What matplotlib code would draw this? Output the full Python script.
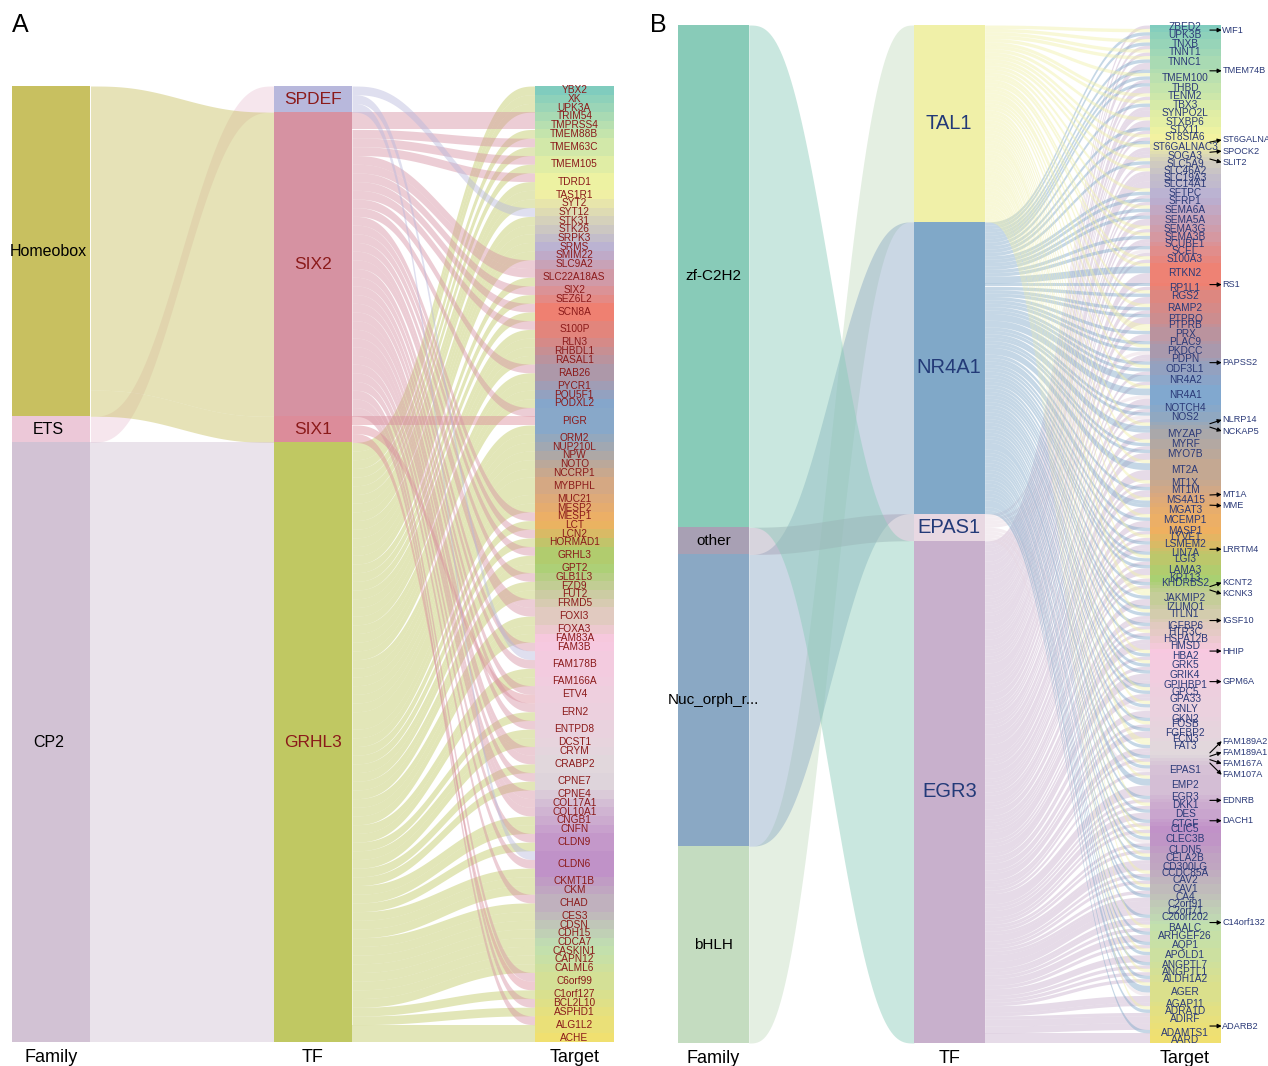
import matplotlib.pyplot as plt
import numpy as np
from matplotlib.colors import LinearSegmentedColormap

plt.rcParams["font.family"] = ["Liberation Sans", "DejaVu Sans"]

# ---------------- panel A ----------------
a_families = ["Homeobox", "ETS", "CP2"]
a_tfs = ["SPDEF", "SIX2", "SIX1", "GRHL3"]
a_tf_family = ["ETS", "Homeobox", "Homeobox", "CP2"]
a_codes = {"P": "SPDEF", "S": "SIX2", "1": "SIX1", "G": "GRHL3"}

a_targets = [
    "YBX2", "XK", "UPK3A", "TRIM54", "TMPRSS4", "TMEM88B", "TMEM63C", "TMEM105",
    "TDRD1", "TAS1R1", "SYT2", "SYT12", "STK31", "STK26", "SRPK3", "SRMS",
    "SMIM22", "SLC9A2", "SLC22A18AS", "SIX2", "SEZ6L2", "SCN8A", "S100P", "RLN3",
    "RHBDL1", "RASAL1", "RAB26", "PYCR1", "POU5F1", "PODXL2", "PIGR", "ORM2",
    "NUP210L", "NPW", "NOTO", "NCCRP1", "MYBPHL", "MUC21", "MESP2", "MESP1",
    "LCT", "LCN2", "HORMAD1", "GRHL3", "GPT2", "GLB1L3", "FZD9", "FUT2",
    "FRMD5", "FOXI3", "FOXA3", "FAM83A", "FAM3B", "FAM178B", "FAM166A", "ETV4",
    "ERN2", "ENTPD8", "DCST1", "CRYM", "CRABP2", "CPNE7", "CPNE4", "COL17A1",
    "COL10A1", "CNGB1", "CNFN", "CLDN9", "CLDN6", "CKMT1B", "CKM", "CHAD",
    "CES3", "CDSN", "CDH15", "CDCA7", "CASKIN1", "CAPN12", "CALML6", "C6orf99",
    "C1orf127", "BCL2L10", "ASPHD1", "ALG1L2", "ACHE",
]
# one letter per unit of flow reaching each target (P=SPDEF, S=SIX2, 1=SIX1, G=GRHL3)
a_links = [
    "G", "G", "G", "S", "S", "G", "SG", "SG",
    "SG", "G", "G", "P", "G", "G", "G", "G",
    "G", "S", "SG", "S", "G", "SG", "SG", "G",
    "G", "G", "SG", "G", "G", "G", "S1G", "G",
    "G", "G", "G", "G", "GG", "G", "G", "S",
    "G", "S", "G", "SG", "G", "S", "G", "G",
    "S", "SG", "G", "G", "S", "PSG", "G", "S1",
    "SG", "SG", "G", "S", "SG", "SG", "S", "S",
    "S", "G", "G", "SG", "PSG", "G", "G", "SG",
    "G", "G", "G", "G", "G", "G", "G", "S1",
    "G", "S", "G", "SG", "G",
]

# ---------------- panel B ----------------
b_families = ["zf-C2H2", "other", "Nuc_orph_r...", "bHLH"]
b_tfs = ["TAL1", "NR4A1", "EPAS1", "EGR3"]
b_tf_family = ["bHLH", "Nuc_orph_r...", "other", "zf-C2H2"]
b_codes = {"T": "TAL1", "N": "NR4A1", "P": "EPAS1", "E": "EGR3"}

b_targets = [
    "ZBED2", "WIF1", "UPK3B", "TNXB", "TNNT1", "TNNC1", "TMEM74B", "TMEM100",
    "THBD", "TENM2", "TBX3", "SYNPO2L", "STXBP6", "STX11", "ST8SIA6", "ST6GALNAC5",
    "ST6GALNAC3", "SPOCK2", "SOGA3", "SLIT2", "SLC5A9", "SLC46A2", "SLC19A3", "SLC14A1",
    "SFTPC", "SFRP1", "SEMA6A", "SEMA5A", "SEMA3G", "SEMA3B", "SCUBE1", "SCEL",
    "S100A3", "RTKN2", "RS1", "RP1L1", "RGS2", "RAMP2", "PTPRO", "PTPRB",
    "PRX", "PLAC9", "PKDCC", "PDPN", "PAPSS2", "ODF3L1", "NR4A2", "NR4A1",
    "NOTCH4", "NOS2", "NLRP14", "NCKAP5", "MYZAP", "MYRF", "MYO7B", "MT2A",
    "MT1X", "MT1M", "MT1A", "MS4A15", "MME", "MGAT3", "MCEMP1", "MASP1",
    "LYVE1", "LSMEM2", "LRRTM4", "LIN7A", "LGI3", "LAMA3", "KRT13", "KHDRBS2",
    "KCNT2", "KCNK3", "JAKMIP2", "IZUMO1", "ITLN1", "IGSF10", "IGFBP6", "HTR3C",
    "HSPA12B", "HMSD", "HHIP", "HBA2", "GRK5", "GRIK4", "GPM6A", "GPIHBP1",
    "GPC5", "GPA33", "GNLY", "GKN2", "FOSB", "FGFBP2", "FCN3", "FAT3",
    "FAM189A2", "FAM189A1", "FAM167A", "FAM107A", "EPAS1", "EMP2", "EGR3", "EDNRB",
    "DKK1", "DES", "DACH1", "CTGF", "CLIC5", "CLEC3B", "CLDN5", "CELA2B",
    "CD300LG", "CCDC85A", "CAV2", "CAV1", "CA4", "C2orf91", "C2orf71", "C20orf202",
    "C14orf132", "BAALC", "ARHGEF26", "AQP1", "APOLD1", "ANGPTL7", "ANGPTL1", "ALDH1A2",
    "AGER", "AGAP11", "ADRA1D", "ADIRF", "ADARB2", "ADAMTS1", "AARD",
]
# T=TAL1, N=NR4A1, P=EPAS1, E=EGR3
b_links = [
    "E", "T", "NE", "TNE", "TE", "TNEE", "N", "TNE",
    "NEE", "TE", "TNE", "EE", "TEE", "NE", "TE", "N",
    "TE", "E", "E", "T", "NE", "TE", "EE", "EE",
    "TNE", "NE", "TNE", "NEE", "TE", "TNE", "E", "NPE",
    "TE", "TNNEEE", "N", "E", "TNEE", "TNE", "NEE", "T",
    "TNEE", "N", "TNPE", "E", "N", "TNE", "NNE", "TNNPEE",
    "NE", "NPE", "T", "N", "NEE", "TNE", "NEE", "TNNEEE",
    "TE", "NE", "E", "TN", "N", "EE", "TNEE", "NE",
    "TE", "NE", "E", "N", "TNE", "NEE", "TE", "N",
    "E", "T", "TNEE", "N", "TNE", "E", "NE", "TE",
    "NE", "EE", "T", "NE", "TNE", "NEE", "E", "N",
    "TNE", "E", "TNPEE", "N", "TE", "NEE", "T", "TNE",
    "E", "N", "E", "T", "NPE", "TNNEEE", "N", "E",
    "TE", "NEE", "N", "E", "TE", "TNPE", "NE", "TNE",
    "EE", "TE", "NE", "TNE", "NE", "EE", "EE", "NE",
    "E", "TE", "NEE", "NE", "TNEE", "NE", "TE", "NE",
    "TNNPEE", "E", "TNE", "EE", "EE", "NE", "EE",
]
# targets whose names sit beside the column with a pointer
b_outside = [
    "WIF1", "TMEM74B", "ST6GALNAC5", "SPOCK2", "SLIT2", "RS1", "PAPSS2", "NLRP14",
    "NCKAP5", "MT1A", "MME", "LRRTM4", "KCNT2", "KCNK3", "IGSF10", "HHIP", "GPM6A",
    "FAM189A2", "FAM189A1", "FAM167A", "FAM107A", "EDNRB", "DACH1", "C14orf132", "ADARB2",
]

target_cmap = LinearSegmentedColormap.from_list("targets", [
    (0.00, "#80ccbe"), (0.10, "#f4f4a0"), (0.18, "#b8b0d4"), (0.25, "#f08070"),
    (0.35, "#80a8d0"), (0.43, "#d8a880"), (0.47, "#f0b060"), (0.52, "#a8d070"),
    (0.61, "#f8c8e0"), (0.72, "#e0d8dc"), (0.81, "#c090c8"), (0.90, "#c0e0b0"),
    (1.00, "#f0e070"),
])

W = 0.3
ALPHA = 0.45


def smooth(t):
    return t * t * t * (t * (6 * t - 15) + 10)


def ribbon(ax, x0, x1, top0, bot0, top1, bot1, color):
    x = np.linspace(x0, x1, 80)
    s = smooth((x - x0) / (x1 - x0))
    ax.fill_between(x, top0 + (top1 - top0) * s, bot0 + (bot1 - bot0) * s,
                    color=color, alpha=ALPHA, lw=0, zorder=1)


def alluvial(ax, families, fam_colors, tfs, tf_family, tf_colors, targets, links, codes):
    flows = []
    for j, mix in enumerate(links):
        for i, tf in enumerate(tfs):
            n = sum(codes[c] == tf for c in mix)
            if n:
                flows.append((i, j, n))
    tf_size = np.array([sum(n for i, j, n in flows if i == k) for k in range(len(tfs))])
    tgt_size = np.array([len(m) for m in links])
    fam_size = np.array([sum(tf_size[k] for k in range(len(tfs)) if tf_family[k] == f)
                         for f in families])
    fam_top = np.concatenate([[0], np.cumsum(fam_size)[:-1]]).astype(float)
    tf_top = np.concatenate([[0], np.cumsum(tf_size)[:-1]]).astype(float)
    tgt_top = np.concatenate([[0], np.cumsum(tgt_size)[:-1]]).astype(float)

    # family -> TF
    cur = fam_top.copy()
    for k in range(len(tfs)):
        f = families.index(tf_family[k])
        ribbon(ax, W, 1, cur[f], cur[f] + tf_size[k], tf_top[k], tf_top[k] + tf_size[k],
               fam_colors[f])
        cur[f] += tf_size[k]

    # TF -> target
    out_cur = tf_top.copy()
    start = {}
    for i, j, n in sorted(flows):
        start[(i, j)] = out_cur[i]
        out_cur[i] += n
    in_cur = tgt_top.copy()
    end = {}
    for i, j, n in sorted(flows, key=lambda f: (f[1], f[0])):
        end[(i, j)] = in_cur[j]
        in_cur[j] += n
    for i, j, n in flows:
        ribbon(ax, 1 + W, 2, start[(i, j)], start[(i, j)] + n, end[(i, j)], end[(i, j)] + n,
               tf_colors[i])

    # nodes
    ax.bar(np.zeros(len(families)), fam_size, bottom=fam_top, width=W, align="edge",
           color=fam_colors, lw=0, zorder=2)
    ax.bar(np.ones(len(tfs)), tf_size, bottom=tf_top, width=W, align="edge",
           color=tf_colors, lw=0, zorder=2)
    tcols = target_cmap(np.linspace(0, 1, len(targets)))
    ax.bar(np.full(len(targets), 2.0), tgt_size, bottom=tgt_top, width=W, align="edge",
           color=tcols, lw=0, zorder=2)

    total = tgt_size.sum()
    ax.set_xlim(0, 2 + W)
    ax.set_ylim(total, 0)
    for sp in ax.spines.values():
        sp.set_visible(False)
    ax.set_yticks([])
    ax.set_xticks([W / 2, 1 + W / 2, 2 + W / 2], ["Family", "TF", "Target"], fontsize=13)
    ax.tick_params(axis="x", length=0, pad=5)
    return fam_top + fam_size / 2, tf_top + tf_size / 2, tgt_top + tgt_size / 2


fig = plt.figure(figsize=(12.68, 10.66), dpi=100)
H, Wpx = 1066, 1268

ax_a = fig.add_axes([12 / Wpx, 1 - 1042 / H, (613.5 - 12) / Wpx, (1042 - 86) / H])
fam_c, tf_c, tgt_c = alluvial(
    ax_a, a_families, ["#c8c060", "#ecc8d8", "#d2c2d4"],
    a_tfs, a_tf_family, ["#b8b8dc", "#d692a2", "#dc8c9a", "#c0c862"],
    a_targets, a_links, a_codes)
for name, y in zip(a_families, fam_c):
    ax_a.text(W / 2 - 0.01, y, name, ha="center", va="center", fontsize=11.5, zorder=3)
for name, y in zip(a_tfs, tf_c):
    ax_a.text(1 + W / 2, y, name, ha="center", va="center", fontsize=12.5,
              color="#8b1a1a", zorder=3)
for name, y in zip(a_targets, tgt_c):
    ax_a.text(2 + W / 2, y, name, ha="center", va="center", fontsize=7.3,
              color="#8b1a1a", zorder=3)

ax_b = fig.add_axes([678 / Wpx, 1 - 1043 / H, (1220.5 - 678) / Wpx, (1043 - 25) / H])
fam_c, tf_c, tgt_c = alluvial(
    ax_b, b_families, ["#88cbb8", "#a8a0b4", "#8aa8c4", "#c4dcc0"],
    b_tfs, b_tf_family, ["#f0f0a8", "#80a8c8", "#e8d8e2", "#c8b0cc"],
    b_targets, b_links, b_codes)
for name, y in zip(b_families, fam_c):
    ax_b.text(W / 2, y, name, ha="center", va="center", fontsize=11, zorder=3)
for name, y in zip(b_tfs, tf_c):
    ax_b.text(1 + W / 2, y, name, ha="center", va="center", fontsize=14.5,
              color="#233a78", zorder=3)

# small targets are labelled beside the column, spread apart so names do not collide
side = [(name, y) for name, y in zip(b_targets, tgt_c) if name in b_outside]
lab_y = np.array([y for _, y in side], dtype=float)
gap = 3.3
for _ in range(200):
    for k in range(1, len(lab_y)):
        d = lab_y[k] - lab_y[k - 1]
        if d < gap:
            lab_y[k - 1] -= (gap - d) / 2
            lab_y[k] += (gap - d) / 2
for name, y in zip(b_targets, tgt_c):
    if name not in b_outside:
        ax_b.text(2 + W / 2, y, name, ha="center", va="center", fontsize=7.3,
                  color="#2b3a78", zorder=3)
for (name, y), ly in zip(side, lab_y):
    ax_b.annotate("", xy=(2.305, ly), xytext=(2.255, y), annotation_clip=False,
                  arrowprops=dict(arrowstyle="-|>", color="black", lw=0.8,
                                  mutation_scale=6, shrinkA=0, shrinkB=0), zorder=4)
    ax_b.text(2.308, ly, name, ha="left", va="center", fontsize=6.6,
              color="#2b3a78", clip_on=False)

fig.text(20 / Wpx, 1 - 25 / H, "A", fontsize=18, ha="center", va="center")
fig.text(658 / Wpx, 1 - 25 / H, "B", fontsize=18, ha="center", va="center")

fig.savefig("out.png", dpi=100)
